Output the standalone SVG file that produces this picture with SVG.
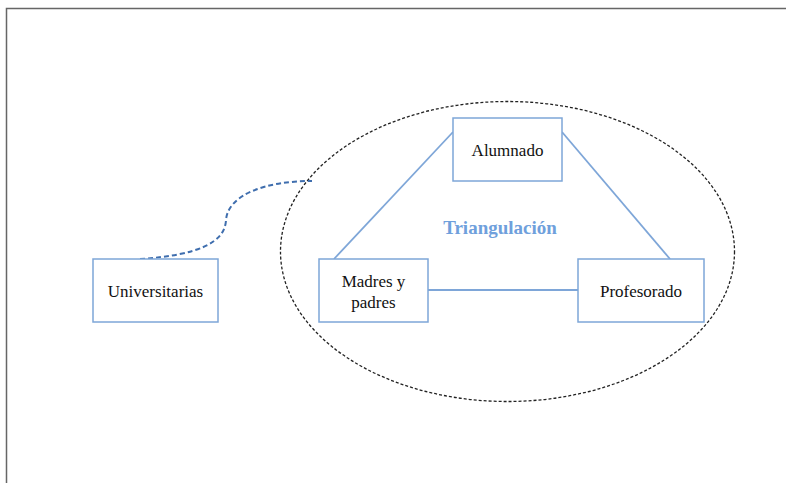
<svg xmlns="http://www.w3.org/2000/svg" width="786" height="483" viewBox="0 0 786 483">
<style>
.box{fill:#fff;stroke:#7ea6d8;stroke-width:1.5}
.lbl{font-family:"Liberation Serif","Times New Roman",serif;font-size:17px;fill:#111;text-anchor:middle}
.conn{stroke:#7ea6d8;stroke-width:1.8;fill:none}
</style>
<rect width="786" height="483" fill="#fff"/>
<path d="M6.5,483 V8.5 H786" fill="none" stroke="#666" stroke-width="1.5"/>
<ellipse id="ellipse" cx="507.5" cy="251.5" rx="227" ry="150" fill="none" stroke="#222" stroke-width="1.3" stroke-dasharray="3,2"/>
<g id="connectors">
<line class="conn" x1="334" y1="259" x2="453" y2="132"/>
<line class="conn" x1="562" y1="132" x2="670" y2="259"/>
<line class="conn" x1="428" y1="290" x2="578" y2="290"/>
<path d="M140,259 C200,255 225,242 226,220 C228,195 265,181 312,181" fill="none" stroke="#3f6eae" stroke-width="2" stroke-dasharray="5,3"/>
</g>
<text x="500" y="234" font-family="Liberation Serif,'Times New Roman',serif" font-size="19" font-weight="bold" fill="#6fa0dc" text-anchor="middle">Triangulación</text>
<g id="universitarias">
<rect class="box" x="93" y="259" width="125" height="63"/>
<text class="lbl" x="155.5" y="297">Universitarias</text>
</g>
<g id="alumnado">
<rect class="box" x="453" y="118" width="109" height="63"/>
<text class="lbl" x="507.5" y="156">Alumnado</text>
</g>
<g id="madres">
<rect class="box" x="319" y="259" width="109" height="63"/>
<text class="lbl" x="373.5" y="287">Madres y</text>
<text class="lbl" x="373.5" y="308">padres</text>
</g>
<g id="profesorado">
<rect class="box" x="578" y="259" width="126" height="63"/>
<text class="lbl" x="641" y="297">Profesorado</text>
</g>
</svg>
